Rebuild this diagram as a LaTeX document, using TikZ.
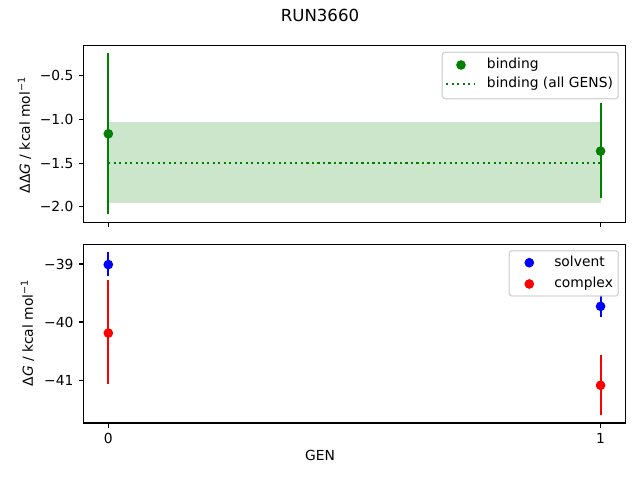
\documentclass[tikz,border=0pt]{standalone}
\usepackage{fontspec}
\setmainfont{DejaVu Sans}
\usetikzlibrary{positioning}
\definecolor{mplgreen}{HTML}{008000}
\definecolor{mplblue}{HTML}{0000FF}
\definecolor{mplred}{HTML}{FF0000}
\definecolor{bandgreen}{HTML}{CCE6CC}
\definecolor{framegray}{HTML}{CCCCCC}
\tikzset{
  frame/.style={line width=0.8pt},
  bar/.style={line width=1.5pt},
  dot/.style={circle,fill=#1,inner sep=0pt,minimum size=7pt},
  ticklab/.style={inner sep=0pt},
  legframe/.style={draw=framegray,fill=white,fill opacity=0.8,draw opacity=0.8,rounded corners=2pt,line width=1pt},
  dotted line/.style={line width=1.5pt,dash pattern=on 1.5pt off 2.475pt}
}
\begin{document}
\begin{tikzpicture}[x=0.01in,y=-0.01in,font=\fontsize{10}{12}\selectfont]
\useasboundingbox (0,0) rectangle (640,480);

\node[anchor=base,font=\fontsize{12}{14}\selectfont] (title) at (320,22) {RUN3660};

% top panel: binding
\begin{scope}[shift={(108.3,32.05)},x=4.92in,y=0.873in]
  \fill[bandgreen] (0,-1.959) rectangle (1,-1.031);
  \draw[dotted line,mplgreen] (0,-1.497) -- (1,-1.497);
  \draw[bar,mplgreen] (0,-0.243) -- (0,-2.087);
  \draw[bar,mplgreen] (1,-0.817) -- (1,-1.905);
  \node[dot=mplgreen] (bind0) at (0,-1.165) {};
  \node[dot=mplgreen] (bind1) at (1,-1.363) {};
  \foreach \v/\t in {-0.5/−0.5,-1.0/−1.0,-1.5/−1.5,-2.0/−2.0}
    \draw[frame] (-0.05,\v) -- ++(-3.5pt,0) node[ticklab,anchor=east,xshift=-3.5pt] {\t};
  \foreach \v in {0,1}
    \draw[frame] (\v,-2.179) -- ++(0,-3.5pt);
  \draw[frame] (-0.05,-2.179) rectangle (1.05,-0.151);
\end{scope}
\node[rotate=90] (ylabtop) at (24.5,135) {ΔΔ\textit{G} / kcal mol\textsuperscript{−1}};

% legend top
\draw[legframe] (442.3,52.3) rectangle (618.3,98.7);
\node[dot=mplgreen] (legbind) at (461,65) {};
\node[anchor=base west,inner sep=0pt] (legbindtxt) at (486.7,68.8) {binding};
\coordinate (legalla) at (446,84);
\coordinate (legallb) at (474.3,84);
\draw[dotted line,mplgreen] (legalla) -- (legallb);
\node[anchor=base west,inner sep=0pt] (legalltxt) at (486.7,87.8) {binding (all GENS)};

% bottom panel: solvent and complex
\begin{scope}[shift={(108.3,-1999.3)},x=4.92in,y=0.58in]
  \draw[bar,mplblue] (0,-38.80) -- (0,-39.20);
  \draw[bar,mplred] (0,-39.27) -- (0,-41.07);
  \draw[bar,mplblue] (1,-39.53) -- (1,-39.91);
  \draw[bar,mplred] (1,-40.57) -- (1,-41.60);
  \node[dot=mplblue] (solv0) at (0,-39.01) {};
  \node[dot=mplred] (cplx0) at (0,-40.19) {};
  \node[dot=mplblue] (solv1) at (1,-39.73) {};
  \node[dot=mplred] (cplx1) at (1,-41.09) {};
  \foreach \v/\t in {-39/−39,-40/−40,-41/−41}
    \draw[frame] (-0.05,\v) -- ++(-3.5pt,0) node[ticklab,anchor=east,xshift=-3.5pt] {\t};
  \foreach \v in {0,1}
    \draw[frame] (\v,-41.74) -- ++(0,-3.5pt) node[ticklab,anchor=north,yshift=-3.5pt] {\v};
  \draw[frame] (-0.05,-41.74) rectangle (1.05,-38.66);
\end{scope}
\node[rotate=90] (ylabbot) at (27.5,333) {Δ\textit{G} / kcal mol\textsuperscript{−1}};
\node[anchor=base] (xlab) at (320,461) {GEN};

% legend bottom
\draw[legframe] (509.3,250.7) rectangle (618.3,296);
\node[dot=mplblue] (legsolv) at (529.3,262.7) {};
\node[anchor=base west,inner sep=0pt] (legsolvtxt) at (554,266.5) {solvent};
\node[dot=mplred] (legcplx) at (529.3,284) {};
\node[anchor=base west,inner sep=0pt] (legcplxtxt) at (554,287.8) {complex};
\end{tikzpicture}
\end{document}
